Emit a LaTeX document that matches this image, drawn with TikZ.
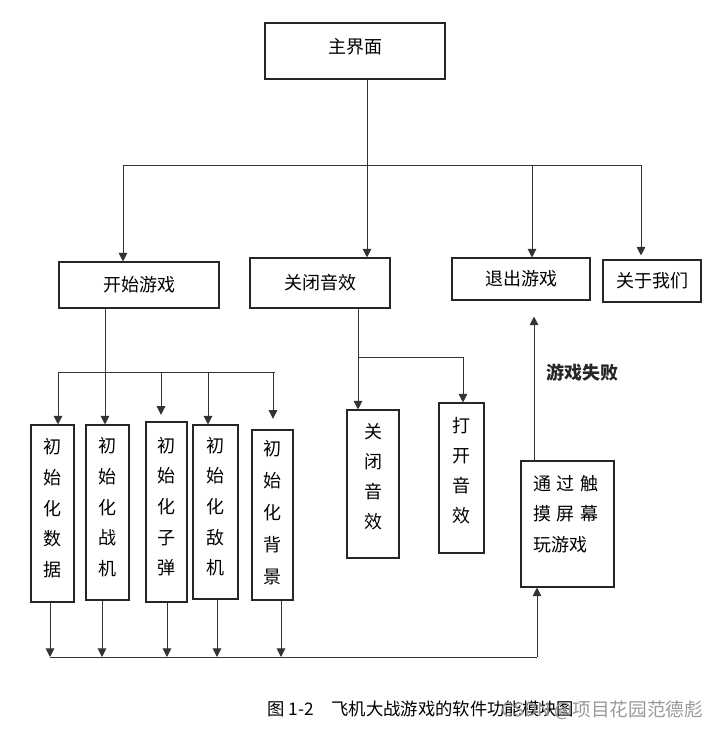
\documentclass[tikz,border=0pt]{standalone}
\usepackage{fontspec}
\setmainfont{Noto Sans CJK SC}
\usetikzlibrary{arrows.meta}
\tikzset{
  box/.style={draw=black!85, line width=0.8pt, inner sep=0pt, align=center, font=\fontsize{13.5pt}{16pt}\selectfont},
  vbox/.style={box, text depth=9pt, font=\fontsize{13.5pt}{23pt}\selectfont},
  wire/.style={draw=black!80, line width=0.75pt},
  arr/.style={wire, -{Triangle[length=6.5pt,width=6.5pt]}},
}
\begin{document}
\begin{tikzpicture}[x=0.75pt,y=0.75pt,yscale=-1,xscale=1]
\useasboundingbox (0,0) rectangle (723,729);

%Shape: Rectangle [main]
	\node[box, text depth=7.5pt, minimum width=135pt, minimum height=42pt] (main) at (355,51) {主界面};
%Shape: Rectangle [start]
	\node[box, minimum width=120pt, minimum height=34.5pt] (start) at (139,285) {开始游戏};
%Shape: Rectangle [mute]
	\node[box, minimum width=105pt, minimum height=37.5pt] (mute) at (320,283) {关闭音效};
%Shape: Rectangle [quit]
	\node[box, minimum width=103.5pt, minimum height=31.5pt] (quit) at (521,279) {退出游戏};
%Shape: Rectangle [about]
	\node[box, minimum width=73.5pt, minimum height=31.5pt] (about) at (652,281) {关于我们};

%Shape: Rectangle [init boxes]
	\node[vbox, minimum width=32.25pt, minimum height=132.75pt] (data) at (52.5,513.5) {初\\始\\化\\数\\据};
	\node[vbox, minimum width=32.25pt, minimum height=131.25pt] (plane) at (107.5,512.5) {初\\始\\化\\战\\机};
	\node[vbox, minimum width=30.75pt, minimum height=135pt] (bullet) at (166.5,512) {初\\始\\化\\子\\弹};
	\node[vbox, minimum width=33.75pt, minimum height=130.5pt] (enemy) at (215.5,512) {初\\始\\化\\敌\\机};
	\node[vbox, text depth=5pt, font=\fontsize{13.5pt}{24pt}\selectfont, minimum width=30.75pt, minimum height=127.5pt] (bg) at (272.5,515) {初\\始\\化\\背\\景};
%Shape: Rectangle [sound boxes]
	\node[vbox, text depth=11.5pt, font=\fontsize{13.5pt}{22.5pt}\selectfont, minimum width=39pt, minimum height=111pt] (off) at (373,484) {关\\闭\\音\\效};
	\node[vbox, text depth=12pt, font=\fontsize{13.5pt}{22.5pt}\selectfont, minimum width=33.75pt, minimum height=112.5pt] (on) at (461.5,478) {打\\开\\音\\效};
%Shape: Rectangle [touch]
	\node[box, align=left, text depth=62pt, font=\fontsize{13.5pt}{23pt}\selectfont, text width=51.75pt, minimum width=69.75pt, minimum height=94.5pt] (touch) at (567.5,524) {通 过 触\\摸 屏 幕\\玩游戏};

%Straight Lines [main level]
	\coordinate (busL) at (123,165);
	\coordinate (busR) at (641,165);
	\draw[arr] (367,0 |- main.south) -- (367,0 |- mute.north);
	\draw[wire] (busL) -- (busR);
	\draw[arr] (busL) -- (busL |- start.north);
	\draw[arr] (532,165) -- (532,0 |- quit.north);
	\draw[arr, shorten >=3pt] (busR) -- (busR |- about.north);

%Straight Lines [start game]
	\coordinate (sbusL) at (58,372);
	\coordinate (sbusR) at (275,372);
	\draw[arr] (105,0 |- start.south) -- (105,0 |- plane.north);
	\draw[wire] (sbusL) -- (sbusR);
	\draw[arr] (sbusL) -- (sbusL |- data.north);
	\draw[arr, shorten >=5pt] (161,372) -- (161,0 |- bullet.north);
	\draw[arr] (208,372) -- (208,0 |- enemy.north);
	\draw[arr, shorten >=8pt] (273,372) -- (273,0 |- bg.north);

%Straight Lines [init to game]
	\coordinate (gbusL) at (50,657);
	\coordinate (gbusR) at (537,657);
	\draw[arr] (50,0 |- data.south) -- (gbusL);
	\draw[arr] (102,0 |- plane.south) -- (102,657);
	\draw[arr] (167,0 |- bullet.south) -- (167,657);
	\draw[arr] (217,0 |- enemy.south) -- (217,657);
	\draw[arr] (281,0 |- bg.south) -- (281,657);
	\draw[wire] (gbusL) -- (gbusR);
	\draw[arr] (gbusR) -- (gbusR |- touch.south);
	\draw[arr, shorten >=12pt] (534,0 |- touch.north) -- (534,0 |- quit.south);

%Straight Lines [sound]
	\draw[arr] (358,0 |- mute.south) -- (358,0 |- off.north);
	\draw[arr] (358,357) -- (463,357) -- (463,0 |- on.north);

% Text Node
	\node[font=\fontsize{13.5pt}{16pt}\selectfont\bfseries, text=black!85] (fail) at (582,373) {游戏失败};
% Text Node
	\node[anchor=west, font=\fontsize{13pt}{15pt}\selectfont] (cap) at (263,709) {图 1-2\quad 飞机大战游戏的软件功能模块图};
% Text Node
	\node[anchor=east, text=black!40, font=\fontsize{14pt}{16pt}\selectfont] (mark) at (708,710) {CSDN @项目花园范德彪};

\end{tikzpicture}
\end{document}
